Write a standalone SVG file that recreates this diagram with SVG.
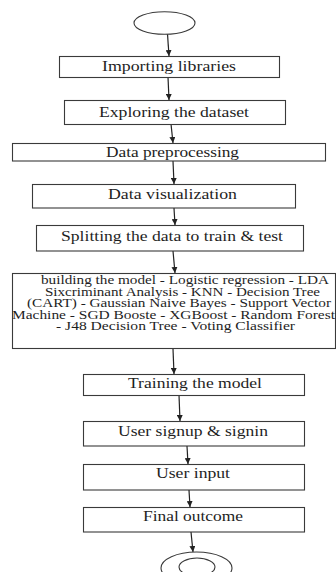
<svg xmlns="http://www.w3.org/2000/svg" width="336" height="572" viewBox="0 0 336 572">
<style>
.box{fill:#fff;stroke:#3a3a3a;stroke-width:1.1}
.term{fill:#fff;stroke:#3a3a3a;stroke-width:1.1}
.t{font-family:"Liberation Serif","Times New Roman",serif;font-size:14.5px;fill:#1e1e1e}
.s{font-family:"Liberation Serif","Times New Roman",serif;font-size:11.5px;fill:#1e1e1e}
.c{stroke:#222;stroke-width:1.2;fill:none;marker-end:url(#ah)}
</style>
<defs>
<marker id="ah" viewBox="0 0 10 10" refX="10" refY="5" markerWidth="6" markerHeight="6" markerUnits="userSpaceOnUse" orient="auto">
<path d="M0,0 L10,5 L0,10 Z" fill="#222"/>
</marker>
</defs>
<rect width="336" height="572" fill="#fff"/>
<g id="connectors">
<line class="c" x1="167.5" y1="34" x2="169" y2="56"/>
<line class="c" x1="168" y1="77" x2="169" y2="100"/>
<line class="c" x1="171" y1="124" x2="173" y2="143"/>
<line class="c" x1="173" y1="161" x2="174" y2="184"/>
<line class="c" x1="174" y1="208" x2="175" y2="225"/>
<line class="c" x1="173" y1="251" x2="175" y2="273"/>
<line class="c" x1="173" y1="349" x2="174" y2="374"/>
<line class="c" x1="179" y1="395" x2="180" y2="421"/>
<line class="c" x1="187" y1="446" x2="188" y2="464"/>
<line class="c" x1="189" y1="490" x2="190" y2="507"/>
<line class="c" x1="191" y1="532" x2="193" y2="552"/>
</g>
<g id="start"><ellipse class="term" cx="164.5" cy="23" rx="30.5" ry="11.3"/></g>
<g id="n1"><rect class="box" x="59.5" y="56.5" width="220" height="21"/><text class="t" x="102" y="71" textLength="134" lengthAdjust="spacingAndGlyphs">Importing libraries</text></g>
<g id="n2"><rect class="box" x="64.5" y="100.5" width="221" height="24"/><text class="t" x="99" y="117" textLength="150" lengthAdjust="spacingAndGlyphs">Exploring the dataset</text></g>
<g id="n3"><rect class="box" x="12.5" y="143.5" width="313" height="17.5"/><text class="t" x="106" y="156.5" textLength="133" lengthAdjust="spacingAndGlyphs">Data preprocessing</text></g>
<g id="n4"><rect class="box" x="32.5" y="184.5" width="263" height="23.5"/><text class="t" x="108" y="199" textLength="129" lengthAdjust="spacingAndGlyphs">Data visualization</text></g>
<g id="n5"><rect class="box" x="36.5" y="225.5" width="267" height="25.5"/><text class="t" x="61" y="241" textLength="222" lengthAdjust="spacingAndGlyphs">Splitting the data to train &amp; test</text></g>
<g id="n6"><rect class="box" x="12.5" y="273.5" width="323" height="75"/>
<text class="s" x="41" y="284" textLength="288" lengthAdjust="spacingAndGlyphs">building the model - Logistic regression - LDA</text>
<text class="s" x="45" y="295.6" textLength="275" lengthAdjust="spacingAndGlyphs">Sixcriminant Analysis - KNN - Decision Tree</text>
<text class="s" x="27" y="307.2" textLength="304" lengthAdjust="spacingAndGlyphs">(CART) - Gaussian Naive Bayes - Support Vector</text>
<text class="s" x="12" y="318.8" textLength="323" lengthAdjust="spacingAndGlyphs">Machine - SGD Booste - XGBoost - Random Forest</text>
<text class="s" x="56" y="330.4" textLength="239" lengthAdjust="spacingAndGlyphs">- J48 Decision Tree - Voting Classifier</text>
</g>
<g id="n7"><rect class="box" x="83.5" y="374.5" width="221" height="21"/><text class="t" x="128" y="388" textLength="134" lengthAdjust="spacingAndGlyphs">Training the model</text></g>
<g id="n8"><rect class="box" x="83.5" y="421.5" width="221" height="24.5"/><text class="t" x="118" y="436" textLength="150" lengthAdjust="spacingAndGlyphs">User signup &amp; signin</text></g>
<g id="n9"><rect class="box" x="83.5" y="464.5" width="221" height="25.5"/><text class="t" x="156" y="478" textLength="74" lengthAdjust="spacingAndGlyphs">User input</text></g>
<g id="n10"><rect class="box" x="83.5" y="507.5" width="221" height="24.5"/><text class="t" x="143" y="520.5" textLength="100" lengthAdjust="spacingAndGlyphs">Final outcome</text></g>
<g id="end"><ellipse class="term" cx="196.5" cy="568" rx="35.5" ry="16"/><ellipse class="term" cx="197" cy="567" rx="18" ry="9"/></g>
</svg>
